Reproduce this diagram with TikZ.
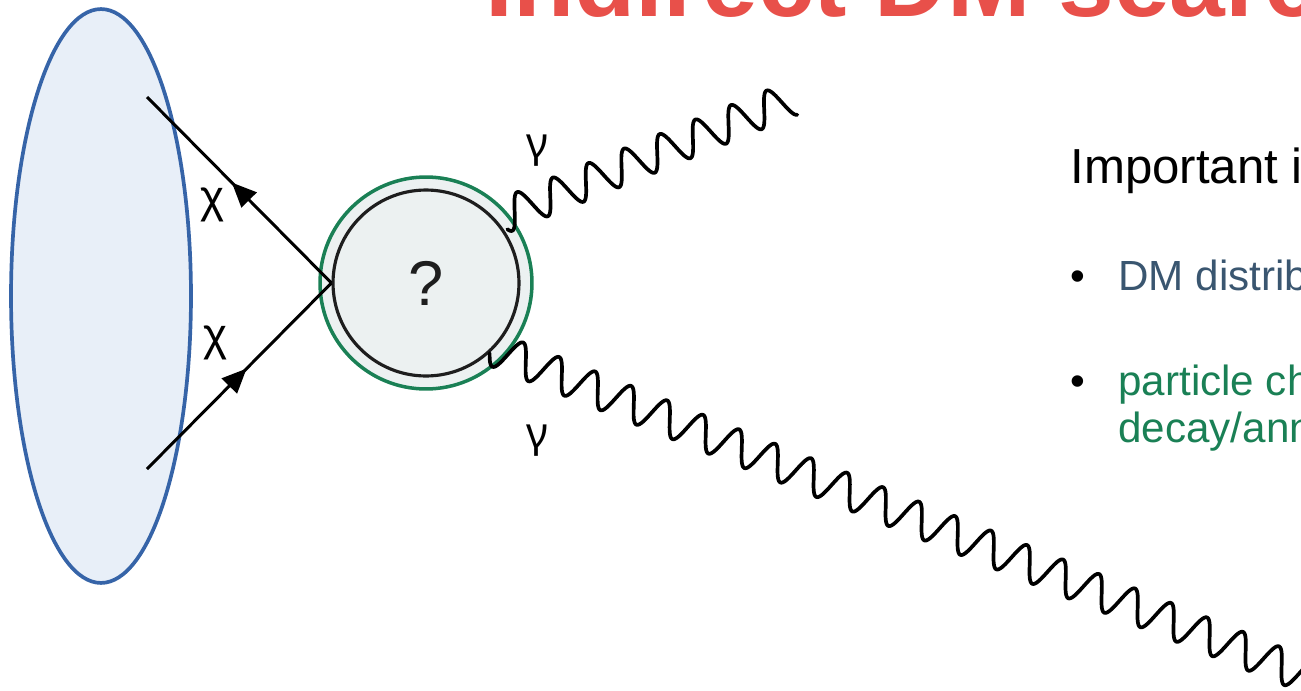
\documentclass[tikz,border=0pt]{standalone}
\usepackage{fontspec}
\setmainfont{Liberation Sans}
\newfontfamily\greekfont{Noto Sans}
\usetikzlibrary{arrows.meta,shapes.geometric,decorations.markings}
\definecolor{ink}{HTML}{1E1E1E}
\definecolor{titlered}{HTML}{E8504A}
\definecolor{slate}{HTML}{3A5670}
\definecolor{leaf}{HTML}{1A8055}
\definecolor{haloline}{HTML}{3664A8}
\definecolor{halofill}{HTML}{E8EFF8}
\definecolor{blobfill}{HTML}{ECF1F1}

\begin{document}
\begin{tikzpicture}[
  x=0.02cm, y=-0.02cm,
  halo/.style={ellipse, draw=haloline, fill=halofill, line width=2.1pt,
    minimum width=3.6cm, minimum height=11.48cm, inner sep=0pt},
  ring/.style={circle, draw=leaf, fill=blobfill, line width=2pt,
    minimum size=4.24cm, inner sep=0pt},
  blob/.style={circle, draw=ink, fill=blobfill, line width=1.8pt,
    minimum size=3.72cm, inner sep=0pt, text=ink, font=\fontsize{36}{40}\selectfont},
  fermion/.style={line width=1.7pt, postaction={decorate},
    decoration={markings, mark=at position 0.54 with {\arrow{Triangle[length=14pt,width=12pt]}}}},
  photon/.style={line width=2.1pt, line join=round, line cap=round},
  particle/.style={font=\fontsize{26}{30}\selectfont, inner sep=0pt},
  slidetext/.style={anchor=base west, inner sep=0pt, font=\fontsize{24}{28}\selectfont}
]
  \useasboundingbox (0,0) rectangle (1301,690);
  \clip (0,0) rectangle (1301,690);

  % title, cut by the frame
  \node[anchor=base west, inner sep=0pt, text=titlered,
    font=\fontsize{57}{64}\selectfont\bfseries] (title) at (485,16) {Indirect DM searc};

  % dark matter halo and the annihilation vertex
  \node[halo] (halo) at (101,296) {};
  \node[ring] (ring) at (426,283) {};
  \node[blob] (blob) at (426,283) {?};

  \coordinate (inA) at (147,97);
  \coordinate (inB) at (147,469);
  \draw[fermion] (blob.west) -- (inA);
  \draw[fermion] (inB) -- (blob.west);

  \node[particle] (chiA) at (212,205) {χ};
  \node[particle] (chiB) at (215,343) {χ};

  % outgoing photons
  \begin{scope}[shift={(559.2,193.3)}, rotate=22.15, x=0.77cm, y=0.34cm]
    \draw[photon] plot[domain=-1.6:6.5, samples=320, variable=\t] ({\t}, {cos(360*\t)});
  \end{scope}
  \begin{scope}[shift={(480.8,343.8)}, rotate=-21.9, x=0.776cm, y=0.34cm]
    \draw[photon] plot[domain=0.3:23.2, samples=900, variable=\t] ({\t}, {cos(360*\t)});
  \end{scope}

  \node[particle, font=\greekfont\fontsize{24}{28}\selectfont] (gamA) at (537,151) {γ};
  \node[particle, font=\greekfont\fontsize{24}{28}\selectfont] (gamB) at (537,441) {γ};

  % text on the right
  \node[anchor=base west, inner sep=0pt, font=\fontsize{28}{32}\selectfont]
    (important) at (1070,183) {Important i};
  \node[slidetext] (dotA) at (1070,290) {•};
  \node[slidetext, text=slate] (itemA) at (1118,290) {DM distrib};
  \node[slidetext] (dotB) at (1070,395) {•};
  \node[slidetext, text=leaf] (itemB) at (1118,395) {particle ch};
  \node[slidetext, text=leaf] (itemC) at (1118,442) {decay/ann};
\end{tikzpicture}
\end{document}
